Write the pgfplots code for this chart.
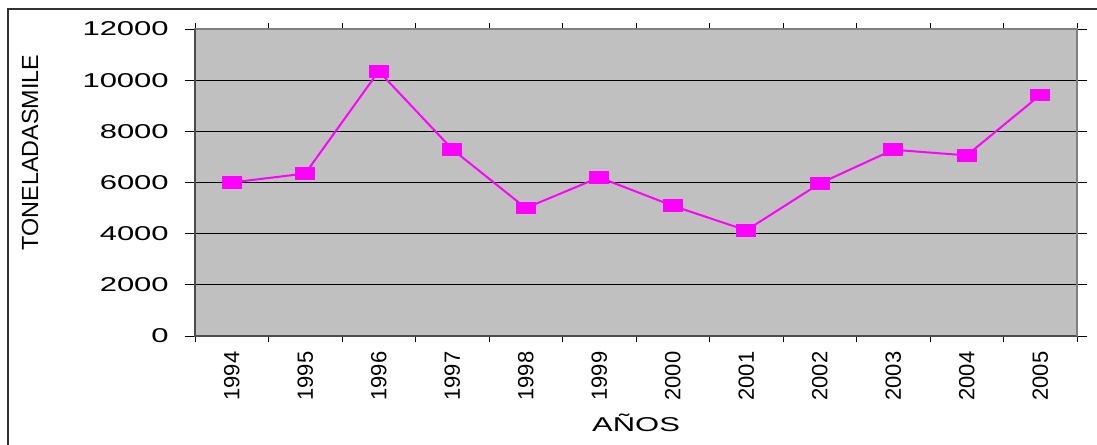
\documentclass[border=0pt]{standalone}
\usepackage{pgfplots}
\pgfplotsset{compat=1.18}
\usepackage{graphicx}
\usepackage{fontspec}
\setmainfont{Liberation Sans}
\definecolor{plotbg}{HTML}{C0C0C0}
\definecolor{linemag}{HTML}{FF00FF}
\newcommand\sy[1]{\scalebox{1.55}[1]{#1}}
\begin{document}
\begin{tikzpicture}
\path[use as bounding box, clip] (0pt,0pt) rectangle (822.75pt,333.75pt);
\draw[black!80, line width=1.5pt] (6pt,-10pt) rectangle (840pt,327pt);
\begin{axis}[
  at={(146.25pt,81.75pt)}, anchor=south west,
  scale only axis, width=661.5pt, height=230.25pt,
  xmin=-0.5, xmax=11.5, ymin=0, ymax=12000,
  scaled y ticks=false,
  axis background/.style={fill=plotbg},
  axis line style={draw=gray, line width=1pt},
  xtick={0,...,11},
  xticklabels={1994,1995,1996,1997,1998,1999,2000,2001,2002,2003,2004,2005},
  minor xtick={-0.5,0.5,...,11.5},
  major x tick style={draw=none},
  minor x tick style={draw=black, line width=0.6pt},
  tick align=outside,
  major tick length=7.5pt, minor tick length=4.5pt,
  ytick={0,2000,...,12000},
  yticklabels={\sy{0},\sy{2000},\sy{4000},\sy{6000},\sy{8000},\sy{10000},\sy{12000}},
  y tick style={draw=black, line width=0.6pt},
  ymajorgrids, major grid style={draw=black, line width=0.6pt},
  xticklabel style={rotate=90, anchor=east, font=\fontsize{16.5}{19}\selectfont, inner sep=0pt, xshift=-4pt},
  yticklabel style={anchor=east, font=\fontsize{15}{18}\selectfont, inner sep=0pt, xshift=-12pt},
  clip=false,
]
\draw[black!70, line width=1.2pt] (rel axis cs:0,1) -- (rel axis cs:0,0) -- (rel axis cs:1,0);
\draw[gray, line width=2pt] (rel axis cs:1,0) -- (rel axis cs:1,1);
\addplot[linemag, line width=1.5pt, mark=square*, mark size=4pt,
  mark options={fill=linemag, draw=linemag, xscale=1.65}]
  coordinates {
  (0,6000) (1,6350) (2,10350) (3,7300) (4,5000) (5,6200)
  (6,5090) (7,4130) (8,5960) (9,7280) (10,7060) (11,9420)
  };
\end{axis}
\node[rotate=90, font=\fontsize{17.5}{20}\selectfont] at (22.5pt,219.4pt) {TONELADASMILE};
\node[font=\fontsize{15}{18}\selectfont] at (477pt,16.5pt) {\scalebox{1.55}[1]{AÑOS}};
\end{tikzpicture}
\end{document}
